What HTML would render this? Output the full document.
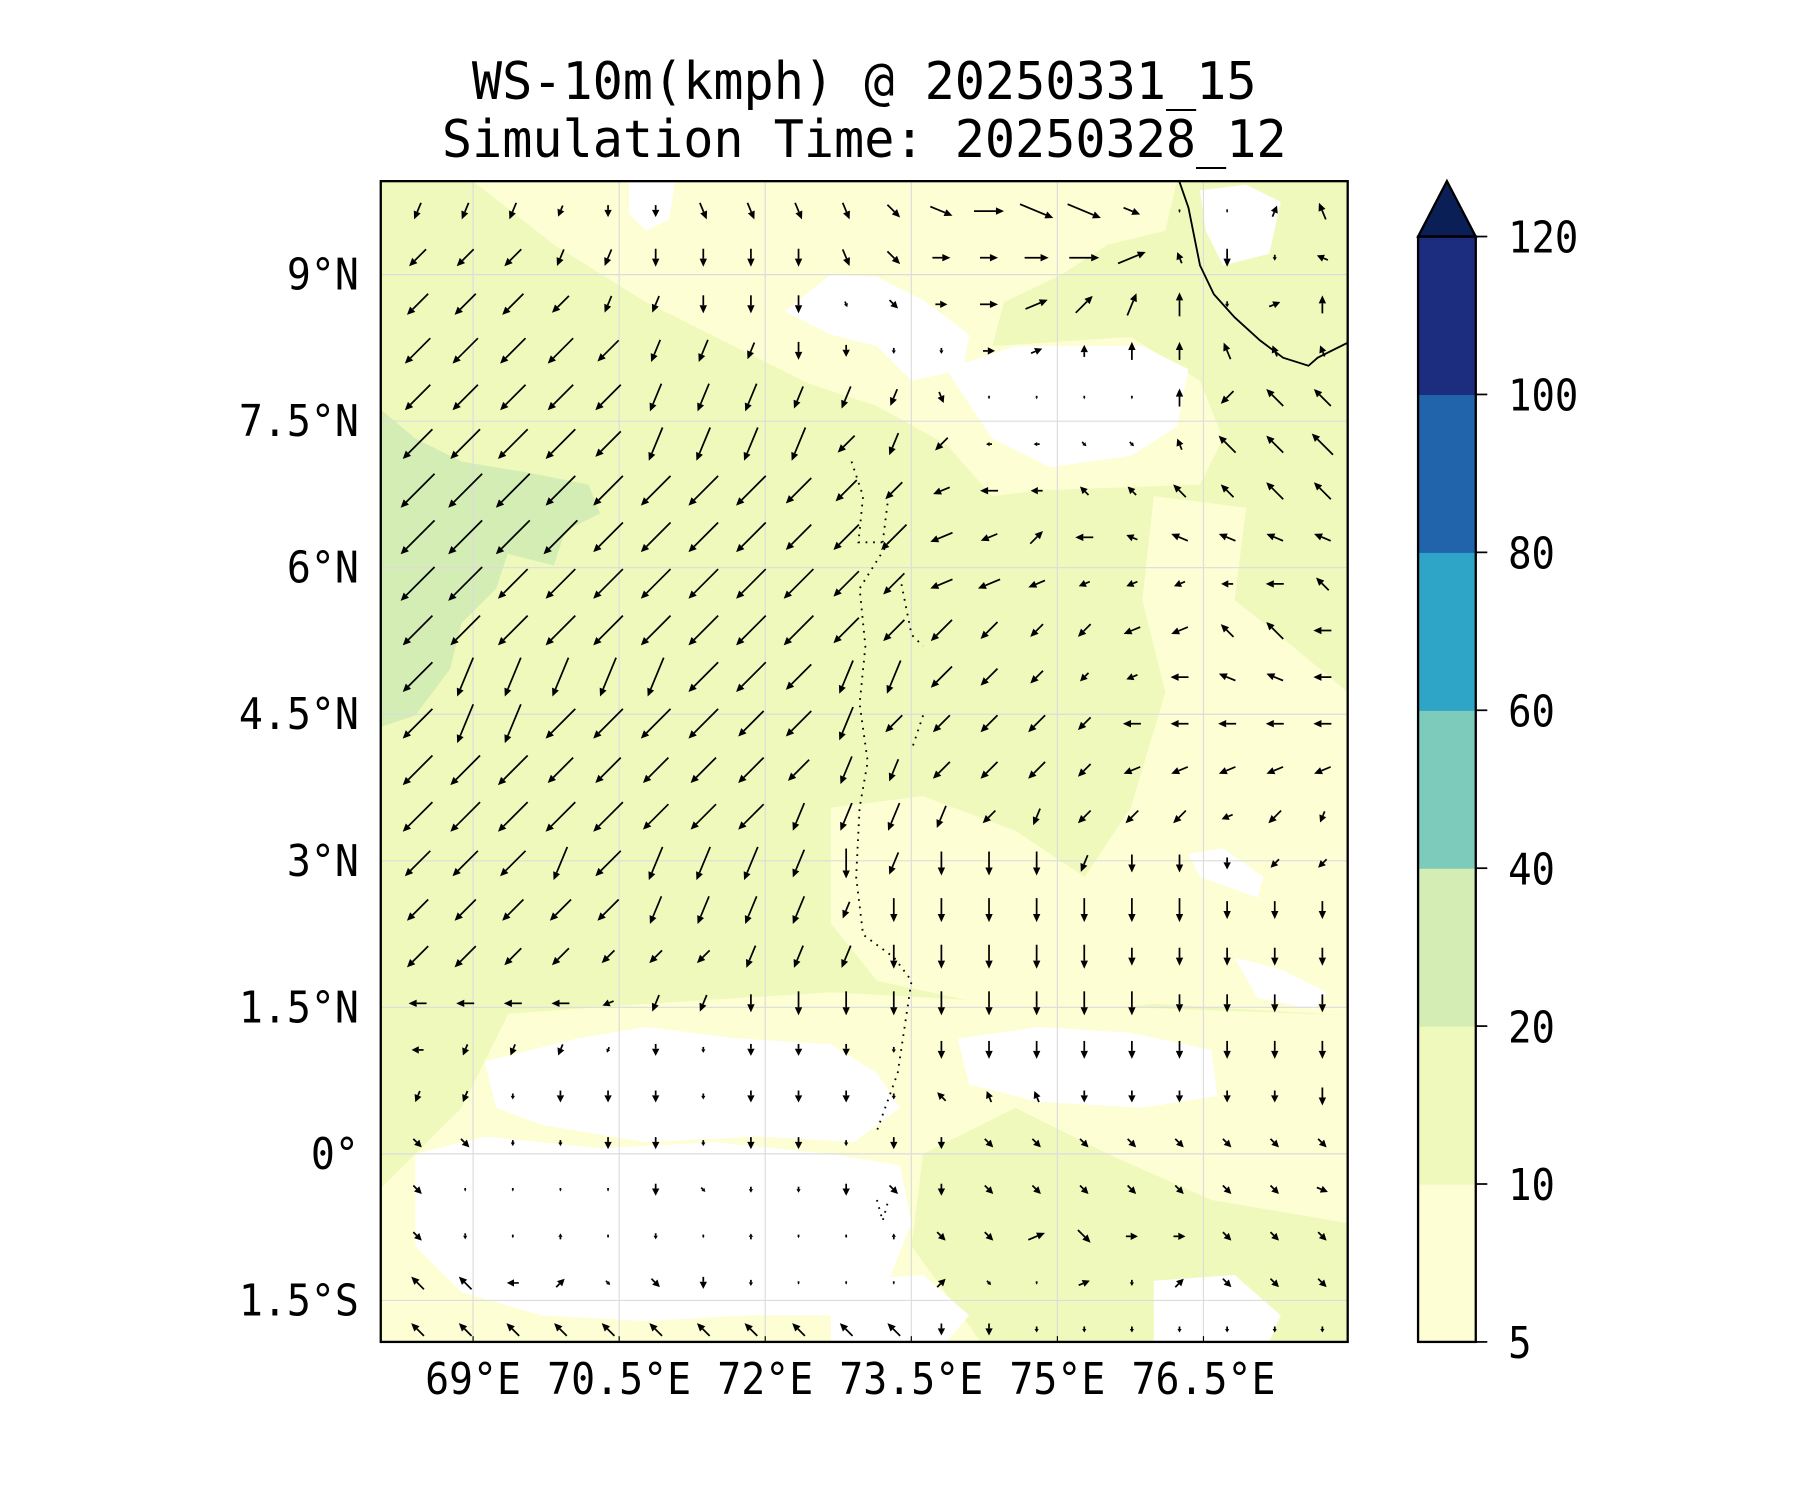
<!DOCTYPE html>
<html><head><meta charset="utf-8"><style>
html,body{margin:0;padding:0;background:#fff;}
svg{display:block;}
text{font-family:"DejaVu Sans Mono","Liberation Mono",monospace;fill:#000;}
</style></head><body>
<svg id="chart" width="1800" height="1500" viewBox="0 0 1560 1300" xmlns="http://www.w3.org/2000/svg">
<g>
<text x="749" y="86" font-size="45" text-anchor="middle" textLength="680" lengthAdjust="spacingAndGlyphs">WS-10m(kmph) @ 20250331_15</text>
<text x="749" y="136" font-size="45" text-anchor="middle" textLength="732" lengthAdjust="spacingAndGlyphs">Simulation Time: 20250328_12</text>
</g>
<defs><clipPath id="pc"><rect x="330" y="157" width="838" height="1006"/></clipPath></defs>
<g clip-path="url(#pc)">
<rect x="330" y="157" width="838" height="1006" fill="#f0f9bc"/>
<path fill="#fdfed3" d="M410,157 L1020,157 L1010,200 L960,212 L920,238 L870,262 L860,300 L980,292 L1040,330 L1060,380 L1040,420 L900,425 L860,430 L820,385 L760,352 L700,332 L640,302 L560,262 L480,212 Z"/>
<path fill="#fdfed3" d="M1000,430 L1080,440 L1070,520 L1120,560 L1168,600 L1168,880 L1000,870 L940,760 L980,700 L1010,600 L990,520 Z"/>
<path fill="#fdfed3" d="M720,700 L800,690 L880,720 L940,760 L1000,870 L900,880 L760,850 L720,800 Z"/>
<path fill="#fdfed3" d="M330,1000 L420,880 L560,870 L720,860 L900,870 L1168,880 L1168,1163 L330,1163 Z"/>
<path fill="#f0f9bc" d="M800,1000 L880,960 L960,1000 L1050,1040 L1168,1060 L1168,1163 L850,1163 L790,1080 Z"/>
<path fill="#f0f9bc" d="M330,800 L420,810 L440,880 L400,960 L360,1000 L330,1030 Z"/>
<path fill="#d3edb5" d="M330,355 L360,380 L400,400 L460,410 L510,420 L520,445 L490,460 L480,490 L440,480 L430,510 L400,540 L390,580 L360,620 L330,630 Z"/>
<g fill="#ffffff">
<path d="M545,157 L585,157 L580,190 L560,200 L545,185 Z"/>
<path d="M680,270 L720,238 L760,240 L800,260 L840,290 L835,320 L790,330 L760,300 L720,290 Z"/>
<path d="M820,320 L880,300 L990,300 L1030,320 L1020,370 L980,395 L910,405 L860,380 L840,350 Z"/>
<path d="M1040,165 L1080,160 L1110,175 L1100,220 L1060,230 L1045,200 Z"/>
<path d="M1030,740 L1060,735 L1095,760 L1090,778 L1040,760 Z"/>
<path d="M1070,830 L1110,840 L1150,860 L1140,875 L1090,865 Z"/>
<path d="M420,920 L500,900 L560,890 L640,900 L720,905 L760,930 L780,960 L740,990 L660,985 L560,990 L470,975 L430,960 Z"/>
<path d="M360,1000 L420,985 L520,995 L620,990 L720,1000 L780,1010 L790,1060 L770,1110 L740,1140 L650,1140 L560,1145 L470,1140 L400,1120 L360,1080 Z"/>
<path d="M830,900 L900,890 L980,895 L1050,910 L1055,950 L990,960 L900,955 L840,940 Z"/>
<path d="M1000,1110 L1070,1105 L1110,1140 L1100,1163 L1000,1163 Z"/>
<path d="M720,1110 L800,1105 L840,1140 L820,1163 L720,1163 Z"/>
</g>
<g id="grid" stroke="#dcdcdc" stroke-width="1"></g>
<path d="M1022,157 L1030,180 L1034,200 L1040,230 L1052,255 L1070,275 L1092,295 L1112,310 L1134,317 L1142,310 L1168,297" fill="none" stroke="#000" stroke-width="1.6"/>
<path d="M738,400 L748,430 L744,470 L770,470 L745,510 L750,560 L745,610 L752,660 L745,700 L742,760 L748,810 L775,830 L790,850 L778,930 L760,980 M770,430 L765,470 M780,500 L790,550 L800,560 M800,620 L790,650 M760,1040 L765,1058 L770,1040" fill="none" stroke="#000" stroke-width="1.6" stroke-dasharray="1.5 5"/>
<g id="arrows"></g>
</g>
<rect x="330" y="157" width="838" height="1006" fill="none" stroke="#000" stroke-width="2"/>
<g id="axes"></g>
<g id="cbar"></g>
</svg>
<script>
const lonTicks = [69, 70.5, 72, 73.5, 75, 76.5];
const lonLabels = ["69°E","70.5°E","72°E","73.5°E","75°E","76.5°E"];
const latTicks = [9, 7.5, 6, 4.5, 3, 1.5, 0, -1.5];
const latLabels = ["9°N","7.5°N","6°N","4.5°N","3°N","1.5°N","0°","1.5°S"];
const cbarLevels = [5, 10, 20, 40, 60, 80, 100, 120];
const cbarColors = ["#fdfed3","#f0f9bc","#d3edb5","#7ccbbb","#2ea4c6","#2164ab","#1c2c7e"];
const cbarExtendColor = "#0b1f57";
const gridLon0 = 68.43, gridDLon = 0.489, gridLat0 = 9.65, gridDLat = 0.477;
const windDirRows = [
"bbbbccddddefgfffccjl",
"aaabbccccdegggghlccn",
"aaaabbcccdegghijkchk",
"aaaaabbbccccghkkklll",
"aaaaabbbbbbdcccckamm",
"aaaaabbbbabaooeelmmm",
"aaaaaaaaaaapoommmmmm",
"aaaaaaaaaaappionnnnn",
"aaaaaaaaaaappppppoomm",
"aaaaaaaaaaaaaaappmmo",
"abbbbbaaabbaaaaponno",
"abbaaaaaabaaaaaooooo",
"aaaaaaaaabbaaaapppppa",
"aaaaaaaabbbbabaaapab",
"aaababbbbcbcccbcccaa",
"aaaaabbbbbcccccccccc",
"aaaaaaabbbcccccccccc",
"oooopbbccccccccccccc",
"obbbbccccccccccccccc",
"bbcccccccccmllcccccc",
"eecccccccccceeeeeeee",
"eccccceccceceeeeeeef",
"ecckccckcckeeheggeee",
"mmoieeccccciechcieee",
"mmmmmmmmmmmccccccccc"
];
const windMagRows = [
"33322233333456630023",
"44433333333334552312",
"55543333312234444123",
"66665443321122233322",
"66666555443200003344",
"77776666644311112445",
"88877777654332223344",
"88887777666433323333",
"88777777765443222233",
"77777777765543333343",
"77777777666543223333",
"77777776664444333333",
"77766666554444333333",
"77777666555433333232",
"66666666554444333222",
"55555555534444444333",
"55443334444444433333",
"33332333444444443333",
"22221212221333333333",
"22122212221222222223",
"22112212212222222222",
"20000211122222222222",
"21010101001223322222",
"33221221000210212222",
"33333333333221111111"
];
const dirAngles = {a:225,b:202.5,c:180,d:157.5,e:135,f:112.5,g:90,h:67.5,i:45,j:22.5,k:0,l:337.5,m:315,n:292.5,o:270,p:247.5};
const NS = "http://www.w3.org/2000/svg";
function xOf(lon){ return 410 + (lon - 69) * 84.4; }
function yOf(lat){ return 238 - (lat - 9) * 84.67; }
function mk(tag, attrs, parent){ const e = document.createElementNS(NS, tag); for (const k in attrs) e.setAttribute(k, attrs[k]); parent.appendChild(e); return e; }

const grid = document.getElementById('grid');
lonTicks.forEach(v => { const l = mk('line', {x1:xOf(v), x2:xOf(v), y1:157, y2:1163}, grid);
  
   });
latTicks.forEach(v => { const l = mk('line', {x1:330, x2:1168, y1:yOf(v), y2:yOf(v)}, grid);
  
   });

const arrows = document.getElementById('arrows');
for (let j = 0; j < windDirRows.length; j++) {
  const dr = windDirRows[j], mr = windMagRows[j];
  for (let i = 0; i < 20; i++) {
    const ch = dr[i] || 'c';
    const mag = parseInt(mr[i] || '0', 10);
    const th = dirAngles[ch] * Math.PI / 180;
    const ux = Math.sin(th), uy = -Math.cos(th);
    const cx = xOf(gridLon0 + i * gridDLon), cy = yOf(gridLat0 - j * gridDLat);
    const L = Math.max(mag * 5.2, 3);
    const hl = Math.min(7, L * 0.6), hw = Math.min(3.2, L * 0.35);
    const x0 = cx - ux * L / 2, y0 = cy - uy * L / 2;
    const x1 = cx + ux * L / 2, y1 = cy + uy * L / 2;
    const bx = x1 - ux * hl, by = y1 - uy * hl;
    const g = mk('g', {}, arrows);
    
    
    mk('line', {x1:x0, y1:y0, x2:bx, y2:by, stroke:'#000', 'stroke-width':1.5}, g);
    mk('polygon', {points:`${x1},${y1} ${bx - uy*hw},${by + ux*hw} ${bx + uy*hw},${by - ux*hw}`, fill:'#000'}, g);
  }
}

const FS = 38, CW = 20.8;
const axes = document.getElementById('axes');
lonTicks.forEach((v, k) => {
  const t = mk('line', {x1:xOf(v), x2:xOf(v), y1:1163, y2:1158, stroke:'#000', 'stroke-width':1}, axes);
  
  
  const tx = mk('text', {x:xOf(v), y:1208, 'font-size':FS, 'text-anchor':'middle', textLength:lonLabels[k].length*CW, lengthAdjust:'spacingAndGlyphs'}, axes);
  tx.textContent = lonLabels[k];
  
  
});
latTicks.forEach((v, k) => {
  const tx = mk('text', {x:311, y:yOf(v) + 13, 'font-size':FS, 'text-anchor':'end', textLength:latLabels[k].length*CW, lengthAdjust:'spacingAndGlyphs'}, axes);
  tx.textContent = latLabels[k];
  
  
});

const cb = document.getElementById('cbar');
const cbTop = 205, cbBot = 1163, cbX = 1229, cbW = 50;
const seg = (cbBot - cbTop) / (cbarLevels.length - 1);
cbarColors.forEach((c, k) => {
  const r = mk('rect', {x:cbX, y:cbBot - (k + 1) * seg, width:cbW, height:seg + 0.5, fill:c}, cb);
  
  
});
const tri = mk('polygon', {points:`${cbX},${cbTop} ${cbX + cbW/2},157 ${cbX + cbW},${cbTop}`, fill:cbarExtendColor, stroke:'#000', 'stroke-width':2}, cb);


const fr = mk('rect', {x:cbX, y:cbTop, width:cbW, height:cbBot - cbTop, fill:'none', stroke:'#000', 'stroke-width':2}, cb);


cbarLevels.forEach((v, k) => {
  const y = cbBot - k * seg;
  const t = mk('line', {x1:cbX + cbW, x2:cbX + cbW + 10, y1:y, y2:y, stroke:'#000', 'stroke-width':1.5}, cb);
  
  
  const s = String(v);
  const tx = mk('text', {x:1307, y:y + 14, 'font-size':FS, textLength:s.length*20.3, lengthAdjust:'spacingAndGlyphs'}, cb);
  tx.textContent = s;
  
  
});
</script>
</body></html>
